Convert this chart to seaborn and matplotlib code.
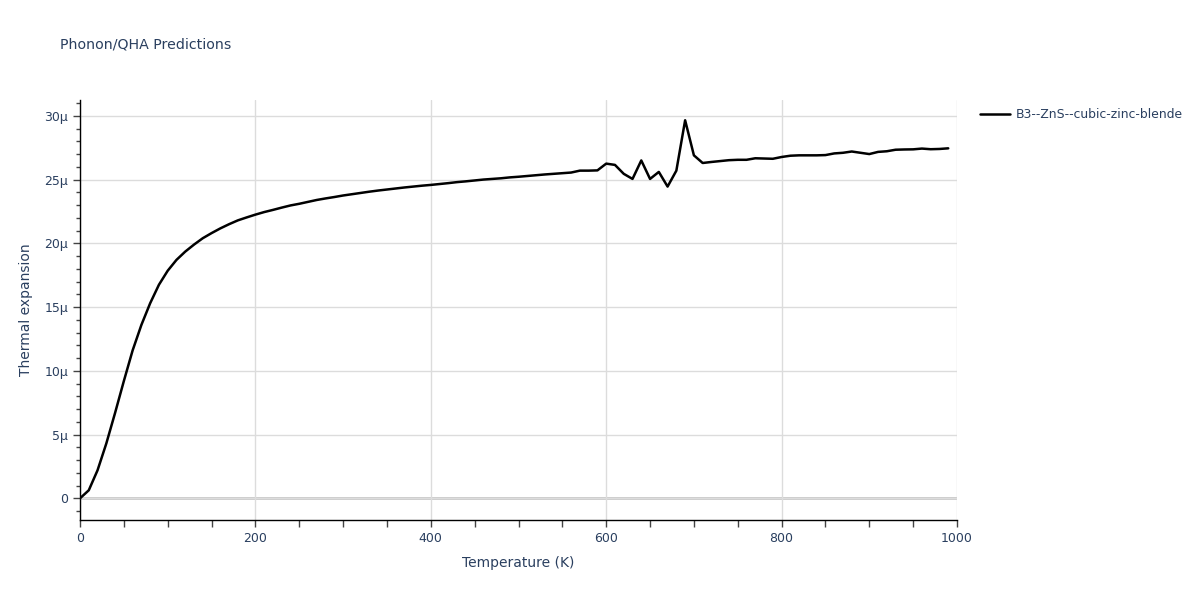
import matplotlib
matplotlib.use("Agg")
import matplotlib.pyplot as plt
from matplotlib.ticker import FuncFormatter, MultipleLocator
from matplotlib.lines import Line2D
import pandas as pd
import seaborn as sns

temperature = list(range(0, 1000, 10))
expansion_micro = [
    0.0, 0.63, 2.2, 4.3, 6.7, 9.2, 11.6, 13.6, 15.3, 16.75,
    17.85, 18.7, 19.35, 19.9, 20.4, 20.8, 21.17, 21.5, 21.8, 22.03,
    22.25, 22.45, 22.62, 22.8, 22.97, 23.1, 23.25, 23.4, 23.52, 23.63,
    23.75, 23.85, 23.95, 24.05, 24.14, 24.22, 24.3, 24.38, 24.45, 24.52,
    24.58, 24.65, 24.72, 24.8, 24.86, 24.93, 25.0, 25.05, 25.1, 25.17,
    25.22, 25.28, 25.34, 25.4, 25.45, 25.5, 25.55, 25.7, 25.7, 25.72,
    26.25, 26.15, 25.45, 25.05, 26.5, 25.05, 25.6, 24.45, 25.7, 29.65,
    26.9, 26.3, 26.38, 26.45, 26.52, 26.55, 26.55, 26.67, 26.65, 26.63,
    26.77, 26.87, 26.9, 26.9, 26.9, 26.92, 27.05, 27.1, 27.2, 27.1,
    27.0, 27.17, 27.22, 27.34, 27.36, 27.37, 27.43, 27.38, 27.4, 27.45,
]
series_name = "B3--ZnS--cubic-zinc-blende"

df = pd.DataFrame({
    "Temperature (K)": temperature,
    "Thermal expansion": [v * 1e-6 for v in expansion_micro],
    "material": series_name,
})

sns.set_theme(style="white")
plt.rcParams['font.family'] = ['DejaVu Sans']
text_color = "#2a3f5f"

fig = plt.figure(figsize=(12, 6), dpi=100)
ax = fig.add_axes([80/1200, 1-520/600, (957-80)/1200, 420/600])

sns.lineplot(data=df, x="Temperature (K)", y="Thermal expansion", hue="material",
             palette=["black"], linewidth=1.8, ax=ax, legend=False)

ax.set_xlim(0, 1000)
ax.set_ylim(-1.7e-6, 31.24e-6)
ax.xaxis.set_major_locator(MultipleLocator(200))
ax.xaxis.set_minor_locator(MultipleLocator(50))
ax.yaxis.set_major_locator(MultipleLocator(5e-6))
ax.yaxis.set_minor_locator(MultipleLocator(1e-6))

def yfmt(v, pos):
    n = int(round(v / 1e-6))
    return "0" if n == 0 else f"{n}µ"
ax.yaxis.set_major_formatter(FuncFormatter(yfmt))

ax.grid(True, which="major", color="#dcdcdc", linewidth=1)
ax.axhline(0, color="#c8c8c8", linewidth=2, zorder=0.5)
ax.set_axisbelow(True)

for side in ["top", "right"]:
    ax.spines[side].set_visible(False)
for side in ["left", "bottom"]:
    ax.spines[side].set_color("black")
    ax.spines[side].set_linewidth(1)

ax.tick_params(axis="both", which="major", direction="out", length=5, width=1,
               color="#444444", labelcolor=text_color, labelsize=9, left=True, bottom=True)
ax.tick_params(axis="both", which="minor", direction="out", length=3, width=1,
               color="#444444", left=True, bottom=True)
ax.tick_params(axis="x", which="minor", length=5)

ax.set_xlabel("Temperature (K)", color=text_color, fontsize=10, labelpad=8)
ax.set_ylabel("Thermal expansion", color=text_color, fontsize=10, labelpad=8)

fig.text(60/1200, 1-45/600, "Phonon/QHA Predictions", color=text_color,
         fontsize=10.2, va="center", ha="left")

handle = Line2D([0], [0], color="black", linewidth=1.8)
fig.legend([handle], [series_name], loc="center left",
           bbox_to_anchor=(969/1200, 1-115/600), frameon=False,
           handlelength=2.4, handletextpad=0.45, fontsize=8.9, labelcolor=text_color)

fig.savefig("out.png", dpi=100, facecolor="white")
